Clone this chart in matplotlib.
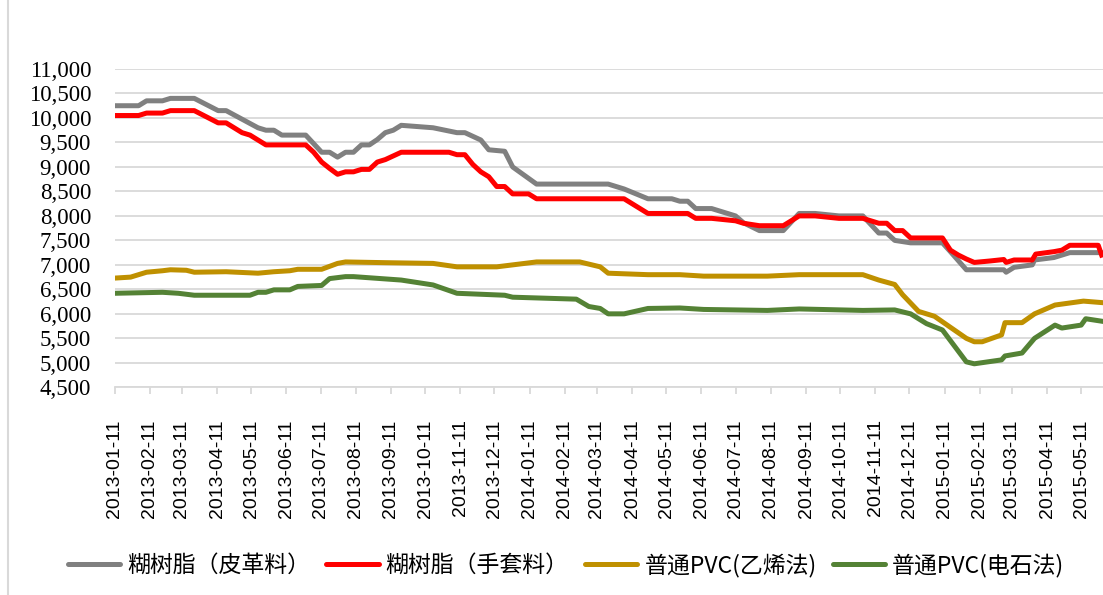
import matplotlib
matplotlib.use("Agg")
import matplotlib.pyplot as plt
import matplotlib.dates as mdates
import matplotlib.ticker as mticker
from matplotlib.lines import Line2D
import pandas as pd

# 糊树脂（皮革料）
leather_dates = ["2013-01-11", "2013-02-01", "2013-02-08", "2013-02-22", "2013-03-01", "2013-03-22",
                 "2013-04-12", "2013-04-19", "2013-05-17", "2013-05-24", "2013-05-31", "2013-06-07",
                 "2013-06-28", "2013-07-12", "2013-07-19", "2013-07-26", "2013-08-02", "2013-08-09",
                 "2013-08-16", "2013-08-23", "2013-08-30", "2013-09-06", "2013-09-13", "2013-09-20",
                 "2013-10-18", "2013-11-08", "2013-11-15", "2013-11-29", "2013-12-06", "2013-12-20",
                 "2013-12-27", "2014-01-17", "2014-03-21", "2014-04-04", "2014-04-25", "2014-05-16",
                 "2014-05-23", "2014-05-30", "2014-06-06", "2014-06-20", "2014-07-11", "2014-07-18",
                 "2014-08-01", "2014-08-22", "2014-09-05", "2014-09-19", "2014-10-10", "2014-10-31",
                 "2014-11-14", "2014-11-21", "2014-11-28", "2014-12-12", "2015-01-09", "2015-01-16",
                 "2015-01-30", "2015-03-04", "2015-03-06", "2015-03-13", "2015-03-29", "2015-03-31",
                 "2015-04-17", "2015-05-01", "2015-05-29"]
leather = [10250, 10250, 10350, 10350, 10400, 10400,
           10150, 10150, 9800, 9750, 9750, 9650,
           9650, 9300, 9300, 9200, 9300, 9300,
           9450, 9450, 9560, 9700, 9750, 9850,
           9800, 9700, 9700, 9550, 9350, 9320,
           9000, 8650, 8650, 8550, 8350, 8350,
           8300, 8300, 8150, 8150, 8000, 7860,
           7700, 7700, 8050, 8050, 8000, 8000,
           7650, 7650, 7500, 7450, 7450, 7270,
           6900, 6900, 6850, 6950, 7000, 7100,
           7150, 7250, 7250]

# 糊树脂（手套料）
glove_dates = ["2013-01-11", "2013-02-01", "2013-02-08", "2013-02-22", "2013-03-01", "2013-03-22",
               "2013-04-12", "2013-04-19", "2013-05-03", "2013-05-10", "2013-05-24", "2013-06-28",
               "2013-07-05", "2013-07-12", "2013-07-19", "2013-07-26", "2013-08-02", "2013-08-09",
               "2013-08-16", "2013-08-23", "2013-08-30", "2013-09-06", "2013-09-20", "2013-11-01",
               "2013-11-08", "2013-11-15", "2013-11-22", "2013-11-29", "2013-12-06", "2013-12-13",
               "2013-12-20", "2013-12-27", "2014-01-10", "2014-01-17", "2014-04-04", "2014-04-25",
               "2014-05-30", "2014-06-06", "2014-06-20", "2014-07-11", "2014-07-18", "2014-08-01",
               "2014-08-22", "2014-09-05", "2014-09-19", "2014-10-10", "2014-10-31", "2014-11-14",
               "2014-11-21", "2014-11-28", "2014-12-05", "2014-12-12", "2015-01-09", "2015-01-16",
               "2015-01-23", "2015-01-30", "2015-02-06", "2015-02-20", "2015-03-04", "2015-03-06",
               "2015-03-13", "2015-03-29", "2015-04-01", "2015-04-17", "2015-04-24", "2015-05-01",
               "2015-05-26", "2015-05-29"]
glove = [10050, 10050, 10100, 10100, 10150, 10150,
         9900, 9900, 9700, 9650, 9450, 9450,
         9300, 9100, 8970, 8850, 8900, 8900,
         8950, 8950, 9100, 9150, 9300, 9300,
         9250, 9250, 9050, 8900, 8800, 8600,
         8600, 8450, 8450, 8350, 8350, 8050,
         8050, 7950, 7950, 7900, 7850, 7800,
         7800, 8000, 8000, 7950, 7950, 7850,
         7850, 7700, 7700, 7550, 7550, 7300,
         7200, 7120, 7050, 7080, 7110, 7050,
         7100, 7100, 7220, 7270, 7300, 7400,
         7400, 7200]

# 普通PVC(乙烯法)
ethylene_dates = ["2013-01-11", "2013-01-25", "2013-02-08", "2013-02-22", "2013-03-01", "2013-03-15",
                  "2013-03-22", "2013-04-19", "2013-05-17", "2013-05-31", "2013-06-14", "2013-06-21",
                  "2013-07-12", "2013-07-26", "2013-08-02", "2013-09-06", "2013-10-18", "2013-11-08",
                  "2013-12-13", "2014-01-17", "2014-02-24", "2014-03-14", "2014-03-21", "2014-04-25",
                  "2014-05-23", "2014-06-13", "2014-08-08", "2014-09-05", "2014-10-31", "2014-11-14",
                  "2014-11-28", "2014-12-05", "2014-12-19", "2015-01-02", "2015-01-30", "2015-02-06",
                  "2015-02-13", "2015-03-02", "2015-03-05", "2015-03-20", "2015-03-31", "2015-04-18",
                  "2015-05-13", "2015-05-29"]
ethylene = [6730, 6750, 6850, 6880, 6900, 6890,
            6850, 6860, 6830, 6860, 6880, 6910,
            6910, 7030, 7060, 7045, 7030, 6960,
            6960, 7060, 7060, 6960, 6830, 6800,
            6800, 6770, 6770, 6800, 6800, 6690,
            6600, 6390, 6050, 5950, 5500, 5430,
            5430, 5570, 5820, 5820, 6000, 6180,
            6260, 6230]

# 普通PVC(电石法)
carbide_dates = ["2013-01-11", "2013-02-22", "2013-03-08", "2013-03-22", "2013-05-10", "2013-05-17",
                 "2013-05-24", "2013-05-31", "2013-06-14", "2013-06-21", "2013-07-12", "2013-07-19",
                 "2013-08-02", "2013-08-09", "2013-09-20", "2013-10-18", "2013-11-08", "2013-12-20",
                 "2013-12-27", "2014-02-21", "2014-03-04", "2014-03-14", "2014-03-21", "2014-04-04",
                 "2014-04-25", "2014-05-23", "2014-06-13", "2014-08-08", "2014-09-05", "2014-10-31",
                 "2014-11-28", "2014-12-12", "2014-12-26", "2015-01-09", "2015-01-30", "2015-02-06",
                 "2015-03-02", "2015-03-05", "2015-03-20", "2015-03-31", "2015-04-18", "2015-04-24",
                 "2015-05-11", "2015-05-15", "2015-05-29"]
carbide = [6420, 6440, 6420, 6380, 6380, 6440,
           6440, 6490, 6490, 6560, 6580, 6720,
           6760, 6760, 6690, 6590, 6420, 6380,
           6340, 6300, 6150, 6110, 6000, 6000,
           6110, 6120, 6090, 6070, 6100, 6070,
           6080, 6000, 5800, 5670, 5020, 4980,
           5060, 5140, 5200, 5500, 5770, 5710,
           5770, 5900, 5850]

series = [
    ("糊树脂（皮革料）", leather_dates, leather, "#808080"),
    ("糊树脂（手套料）", glove_dates, glove, "#FF0000"),
    ("普通PVC(乙烯法)", ethylene_dates, ethylene, "#BF9000"),
    ("普通PVC(电石法)", carbide_dates, carbide, "#548235"),
]

W, H = 1103, 595
fig = plt.figure(figsize=(W / 100, H / 100), dpi=100)
ax = fig.add_axes([114.7 / W, 1 - 387.3 / H, 1 - 114.7 / W, (387.3 - 69) / H])

handles = []
for label, d, v, c in series:
    ax.plot(pd.to_datetime(d), v, color=c, lw=3.6, solid_joinstyle="round", zorder=3)
    handles.append(Line2D([0], [0], color=c, lw=3.6, solid_capstyle="round", label=label))

start = pd.Timestamp("2013-01-11")
ax.set_xlim(start, start + pd.Timedelta(days=869.2))
ax.set_ylim(4500, 11000)
ax.set_yticks(range(4500, 11001, 500))
ax.yaxis.set_major_formatter(mticker.FuncFormatter(lambda v, p: f"{int(v):,}"))

ticks = pd.date_range("2013-01-11", "2015-05-11", freq=pd.DateOffset(months=1))
ax.set_xticks(ticks)
ax.xaxis.set_major_formatter(mdates.DateFormatter("%Y-%m-%d"))

ax.yaxis.grid(True, color="#D9D9D9", lw=1.3)
ax.set_axisbelow(True)
for s in ["top", "right", "left"]:
    ax.spines[s].set_visible(False)
ax.spines["bottom"].set_color("#D9D9D9")
ax.spines["bottom"].set_linewidth(1.3)

ax.tick_params(axis="y", length=0, pad=17)
ax.tick_params(axis="x", length=5, width=1.3, color="#D9D9D9", pad=18)
for t in ax.get_yticklabels():
    t.set_family("Liberation Serif")
    t.set_fontsize(16.5)
for t in ax.get_xticklabels():
    t.set_family("Liberation Sans")
    t.set_fontsize(14)
    t.set_rotation(90)

fig.legend(handles=handles, loc="center", bbox_to_anchor=(566 / W, 1 - 565 / H), ncol=4,
           frameon=False, prop={"family": ["Noto Sans CJK SC", "DejaVu Sans"], "size": 16.5},
           handlelength=2.3, handletextpad=0.3, columnspacing=0.7, borderaxespad=0)

# chart-area border on the left
fig.add_artist(Line2D([8 / W, 8 / W], [0, 1], color="#D9D9D9", lw=1.5, transform=fig.transFigure))

fig.savefig("out.png", dpi=100)
